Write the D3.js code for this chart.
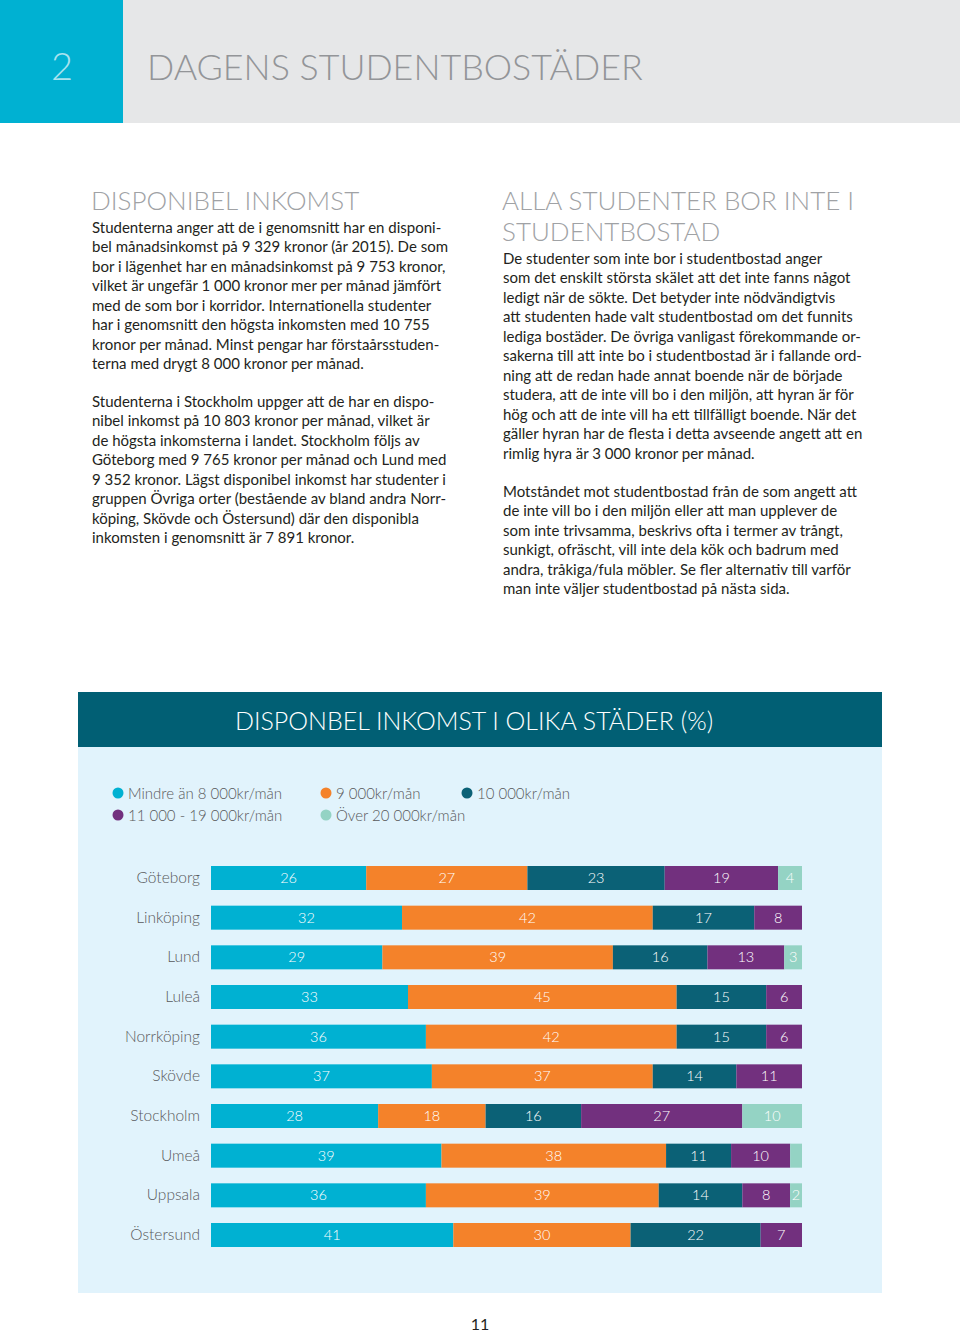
<!DOCTYPE html>
<html><head><meta charset="utf-8">
<script src="https://cdn.jsdelivr.net/npm/d3@7"></script>
<style>
html,body{margin:0;padding:0;background:#fff;}
svg{display:block;}
</style></head>
<body>
<script>
// ---------- DATA ----------
const cities = ["Göteborg","Linköping","Lund","Luleå","Norrköping","Skövde","Stockholm","Umeå","Uppsala","Östersund"];
const seriesNames = ["Mindre än 8 000kr/mån","9 000kr/mån","10 000kr/mån","11 000 - 19 000kr/mån","Över 20 000kr/mån"];
const under8000   = [26,32,29,33,36,37,28,39,36,41];
const k9000       = [27,42,39,45,42,37,18,38,39,30];
const k10000      = [23,17,16,15,15,14,16,11,14,22];
const k11to19000  = [19, 8,13, 6, 6,11,27,10, 8, 7];
const over20000   = [ 4, 0, 3, 0, 0, 0,10, 2, 2, 0];
const unlabeled   = [["Umeå", 4]]; // segment drawn without a number
const seriesColors = ["#00b1d2","#f4822a","#0b6176","#72307e","#94d3c4"];

const chartTitle = "DISPONBEL INKOMST I OLIKA STÄDER (%)";
const headerNumber = "2";
const headerTitle = "DAGENS STUDENTBOSTÄDER";
const leftHeading = ["DISPONIBEL INKOMST"];
const leftPara1 = [
 "Studenterna anger att de i genomsnitt har en disponi-",
 "bel månadsinkomst på 9 329 kronor (år 2015). De som",
 "bor i lägenhet har en månadsinkomst på 9 753 kronor,",
 "vilket är ungefär 1 000 kronor mer per månad jämfört",
 "med de som bor i korridor. Internationella studenter",
 "har i genomsnitt den högsta inkomsten med 10 755",
 "kronor per månad. Minst pengar har förstaårsstuden-",
 "terna med drygt 8 000 kronor per månad."];
const leftPara2 = [
 "Studenterna i Stockholm uppger att de har en dispo-",
 "nibel inkomst på 10 803 kronor per månad, vilket är",
 "de högsta inkomsterna i landet. Stockholm följs av",
 "Göteborg med 9 765 kronor per månad och Lund med",
 "9 352 kronor. Lägst disponibel inkomst har studenter i",
 "gruppen Övriga orter (bestående av bland andra Norr-",
 "köping, Skövde och Östersund) där den disponibla",
 "inkomsten i genomsnitt är 7 891 kronor."];
const rightHeading = ["ALLA STUDENTER BOR INTE I","STUDENTBOSTAD"];
const rightPara1 = [
 "De studenter som inte bor i studentbostad anger",
 "som det enskilt största skälet att det inte fanns något",
 "ledigt när de sökte. Det betyder inte nödvändigtvis",
 "att studenten hade valt studentbostad om det funnits",
 "lediga bostäder. De övriga vanligast förekommande or-",
 "sakerna till att inte bo i studentbostad är i fallande ord-",
 "ning att de redan hade annat boende när de började",
 "studera, att de inte vill bo i den miljön, att hyran är för",
 "hög och att de inte vill ha ett tillfälligt boende. När det",
 "gäller hyran har de flesta i detta avseende angett att en",
 "rimlig hyra är 3 000 kronor per månad."];
const rightPara2 = [
 "Motståndet mot studentbostad från de som angett att",
 "de inte vill bo i den miljön eller att man upplever de",
 "som inte trivsamma, beskrivs ofta i termer av trångt,",
 "sunkigt, ofräscht, vill inte dela kök och badrum med",
 "andra, tråkiga/fula möbler. Se fler alternativ till varför",
 "man inte väljer studentbostad på nästa sida."];
const pageNumber = "11";

// ---------- DRAW ----------
const W = 960, H = 1332;
const svg = d3.select("body").append("svg").attr("width", W).attr("height", H);
const bodyFont = "Lato, 'Open Sans', sans-serif";

// header
svg.append("rect").attr("x",0).attr("y",0).attr("width",W).attr("height",123).attr("fill","#e6e7e8");
svg.append("rect").attr("x",0).attr("y",0).attr("width",123).attr("height",123).attr("fill","#00b1d2");
svg.append("text").attr("x",62).attr("y",80).attr("text-anchor","middle")
  .attr("font-family",bodyFont).attr("font-weight",300).attr("font-size",38).attr("fill","#a9e3ef").text(headerNumber);
svg.append("text").attr("x",147).attr("y",80)
  .attr("font-family",bodyFont).attr("font-weight",300).attr("font-size",35.8).attr("fill","#939598").text(headerTitle);

function lines(arr, x, y0, dy, size, color, weight){
  svg.append("g").selectAll("text").data(arr).join("text")
    .attr("x",x).attr("y",(d,i)=>y0+i*dy)
    .attr("font-family",bodyFont).attr("font-size",size).attr("font-weight",weight)
    .attr("fill",color).text(d=>d);
}
const hCol = "#a0a2a5", tCol = "#231f20";
lines(leftHeading, 91, 210, 31, 26, hCol, 300);
lines(leftPara1, 92, 233, 19.45, 15, tCol, 400);
lines(leftPara2, 92, 407, 19.45, 15, tCol, 400);
lines(rightHeading, 502, 210, 31, 26, hCol, 300);
lines(rightPara1, 503, 264, 19.45, 15, tCol, 400);
lines(rightPara2, 503, 497, 19.45, 15, tCol, 400);

// chart panel
svg.append("rect").attr("x",78).attr("y",692).attr("width",804).attr("height",601).attr("fill","#e1f3fc");
svg.append("rect").attr("x",78).attr("y",692).attr("width",804).attr("height",55).attr("fill","#015f74");
svg.append("text").attr("x",474).attr("y",730).attr("text-anchor","middle")
  .attr("font-family",bodyFont).attr("font-weight",300).attr("font-size",25).attr("fill","#ffffff").text(chartTitle);

// legend
const legendPos = [[118,793],[326,793],[467,793],[118,815],[326,815]];
const lg = svg.append("g").selectAll("g").data(seriesNames).join("g")
  .attr("transform",(d,i)=>`translate(${legendPos[i][0]},${legendPos[i][1]})`);
lg.append("circle").attr("r",5.5).attr("fill",(d,i)=>seriesColors[i]);
lg.append("text").attr("x",10).attr("y",5.5).attr("font-family",bodyFont).attr("font-weight",300)
  .attr("font-size",15).attr("fill","#58595b").text(d=>d);

// bars
const seriesVals = [under8000,k9000,k10000,k11to19000,over20000];
const rows = cities.map((c,i)=>{
  const vals = seriesVals.map(s=>s[i]);
  return {city:c, vals, total:d3.sum(vals)};
});
const y = d3.scaleBand().domain(cities).range([866,1247]).paddingInner(0.395).paddingOuter(0);
const xRange = [211, 802];

const yAxis = d3.axisLeft(y).tickSize(0).tickPadding(0);
const ax = svg.append("g").attr("transform","translate(200,0)").call(yAxis);
ax.select(".domain").remove();
ax.selectAll("text").attr("font-family",bodyFont).attr("font-weight",300).attr("font-size",15.5).attr("fill","#58595b");

const isUnlabeled = (c,j)=>unlabeled.some(u=>u[0]===c && u[1]===j);
rows.forEach(r=>{
  const x = d3.scaleLinear().domain([0, r.total]).range(xRange);
  const stack = [];
  let acc = 0;
  r.vals.forEach((v,j)=>{ if(v>0) stack.push({j, v, x0:acc, x1:acc+v}); acc+=v; });
  const g = svg.append("g");
  g.selectAll("rect").data(stack).join("rect")
    .attr("x",d=>x(d.x0)).attr("width",d=>x(d.x1)-x(d.x0))
    .attr("y",y(r.city)).attr("height",y.bandwidth())
    .attr("fill",d=>seriesColors[d.j]);
  g.selectAll("text").data(stack.filter(d=>!isUnlabeled(r.city,d.j))).join("text")
    .attr("x",d=>(x(d.x0)+x(d.x1))/2).attr("y",y(r.city)+y.bandwidth()/2+5)
    .attr("text-anchor","middle").attr("font-family",bodyFont).attr("font-weight",300)
    .attr("font-size",14.5).attr("fill","#ffffff").text(d=>d.v);
});

svg.append("text").attr("x",480).attr("y",1330).attr("text-anchor","middle")
  .attr("font-family",bodyFont).attr("font-size",16).attr("fill","#231f20").text(pageNumber);
</script>
</body></html>
